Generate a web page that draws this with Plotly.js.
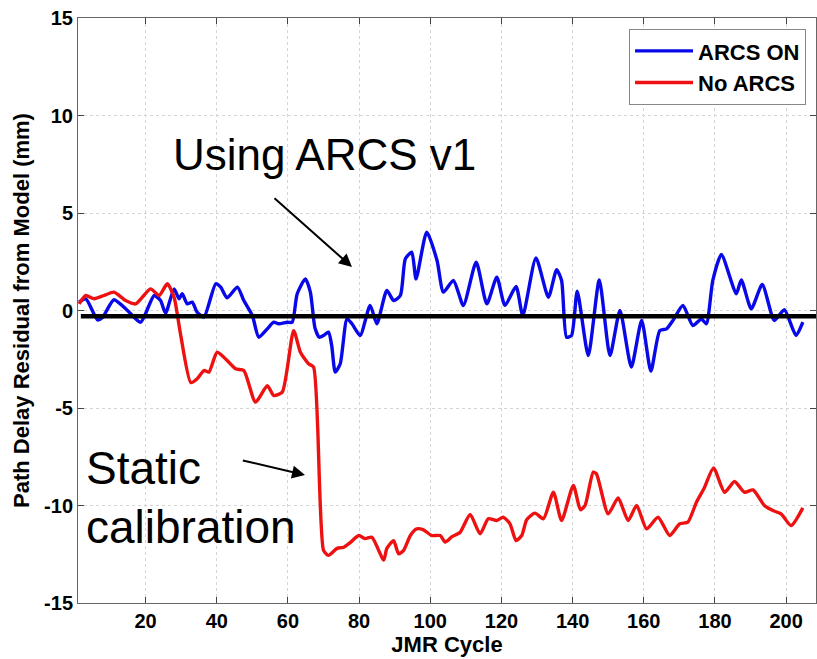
<!DOCTYPE html>
<html>
<head>
<meta charset="utf-8">
<script src="https://cdn.plot.ly/plotly-3.0.1.min.js"></script>
<style>html,body{margin:0;padding:0;background:#fff;}#chart{width:817px;height:659px;}</style>
</head>
<body>
<div id="chart"></div>
<script>
// JMR cycle (x) and path delay residual (mm) for ARCS ON
const arcsOnCycle = [1.3,3.2,6.5,7.9,11.1,14.9,18.6,22.4,24.2,25.6,28,29.4,30.3,31.7,33.1,34.5,36.4,39.7,41.1,42.9,45.8,47.6,50,51.8,54.2,56,57.4,59.8,61.2,62.6,64.9,66.3,67.6,68.8,70,71.4,72.3,73.3,74.7,76.6,78,80.3,83.1,85,87.8,89.7,91.6,93,94.8,96,99,101.9,103.7,106.5,109.3,112.9,115.9,118.7,121,124.1,126,129.7,133.2,135.5,136.9,138.3,139.7,141.3,144.4,147.5,150.5,153.3,156.5,159.4,162,164.5,166.4,168.2,171,173.8,176.2,177.6,179.4,181.8,186,187.4,190.2,193.3,196.7,199.5,202.8,204.7];
const arcsOnResidual = [0.43,0.6,-0.48,-0.36,0.55,0.0,-0.6,0.77,0.51,-0.14,1.11,0.6,0.86,0.34,0.43,-0.09,-0.34,1.37,1.2,0.65,1.2,0.51,-0.26,-1.37,-0.94,-0.6,-0.68,-0.6,-0.6,0.86,1.62,0.94,-0.9,-1.37,-1.28,-1.11,-1.8,-3.16,-2.73,-0.43,-0.68,-1.28,0.26,-0.68,1.03,0.51,0.77,2.65,2.99,1.62,4.02,2.56,0.94,1.54,0.26,2.48,0.34,1.71,0.26,1.23,-0.26,2.7,0.68,2.09,1.54,-1.37,-1.28,0.99,-2.31,1.57,-2.31,0.0,-2.9,-0.51,-3.11,-1.03,-0.94,-0.51,0.26,-0.77,-0.43,-0.68,1.54,2.87,0.86,1.57,0.09,1.33,-0.51,0.04,-1.28,-0.6];

// JMR cycle (x) and path delay residual (mm) with no ARCS (static calibration)
const noArcsCycle = [1.3,3.2,5.5,8.3,11.1,14.4,17.2,21.4,23.8,26.1,28,29.8,32.7,34.5,36.4,37.8,40.1,42.9,45.3,47.6,50.9,54.2,56,58.4,61.6,63.5,65.8,67.2,70,71.4,73.8,75.7,77.5,79.9,81.7,83.6,86.9,87.8,89.7,91.1,92.5,94.4,96.2,98.1,100.4,102.8,104.2,106.1,108.4,111.2,114,116.3,118.7,120.5,122.4,124.1,125.7,127.1,129.4,131.8,134.6,136.9,140.2,142.2,143.5,145.8,146.7,150,152.8,155.6,158,160.8,164,167.3,170.1,172.4,174.8,177.1,179.6,182.7,185.5,188.3,190.7,193.9,196.3,198.6,201.4,204.7];
const noArcsResidual = [0.34,0.77,0.6,0.77,0.94,0.51,0.34,1.11,0.77,1.37,0.68,-1.2,-3.7,-3.5,-3.08,-3.16,-2.14,-2.56,-2.99,-3.08,-4.7,-3.85,-4.36,-4.19,-1.03,-2.14,-2.73,-2.9,-12.3,-12.56,-12.2,-12.14,-11.9,-11.54,-11.7,-11.63,-12.8,-12.2,-11.8,-12.48,-12.3,-11.54,-11.2,-11.25,-11.54,-11.54,-11.88,-11.6,-11.37,-10.46,-11.45,-10.68,-10.77,-10.6,-10.94,-11.8,-11.54,-10.73,-10.39,-10.68,-9.32,-10.77,-8.97,-10.22,-10.0,-8.29,-8.38,-10.43,-9.61,-10.77,-10.0,-11.2,-10.6,-11.54,-10.94,-10.85,-9.83,-9.06,-8.07,-9.32,-8.77,-9.32,-9.2,-10.0,-10.26,-10.43,-11.03,-10.12];

// Reference (mean) line
const refLineCycle = [1.8, 208.4];
const refLineValue = [-0.3, -0.3];

const xTicks = [20,40,60,80,100,120,140,160,180,200];
const yTicks = [-15,-10,-5,0,5,10,15];

const FONT = '"Liberation Sans", Arial, Helvetica, sans-serif';

const traces = [
  {x: arcsOnCycle, y: arcsOnResidual, name: 'ARCS ON', mode: 'lines',
   line: {color: '#0808e8', width: 3.4, shape: 'spline', smoothing: 0.6}},
  {x: noArcsCycle, y: noArcsResidual, name: 'No ARCS', mode: 'lines',
   line: {color: '#ee1111', width: 3.4, shape: 'spline', smoothing: 0.6}},
  {x: refLineCycle, y: refLineValue, mode: 'lines', showlegend: false, hoverinfo: 'skip',
   line: {color: '#000000', width: 4.5}}
];

const axisCommon = {
  showline: true, mirror: 'ticks', linecolor: '#666', linewidth: 1,
  ticks: 'inside', ticklen: 6, tickcolor: '#444', tickwidth: 1,
  showgrid: true, gridcolor: '#d4d4d4', griddash: 'dot', gridwidth: 1,
  zeroline: false,
  tickfont: {family: FONT, size: 20, color: '#000', weight: 'bold'}
};

const layout = {
  width: 817, height: 659,
  margin: {l: 78, r: 1, t: 18, b: 56},
  paper_bgcolor: '#fff', plot_bgcolor: '#fff',
  showlegend: true,
  legend: {
    x: 0.9865, y: 0.981, xanchor: 'right', yanchor: 'top',
    bgcolor: '#fff', bordercolor: '#888', borderwidth: 1,
    font: {family: FONT, size: 22, color: '#000', weight: 'bold'},
    itemwidth: 58, tracegroupgap: 0
  },
  xaxis: Object.assign({}, axisCommon, {
    range: [1, 208.4], tickvals: xTicks, ticktext: xTicks.map(String),
    title: {text: 'JMR Cycle', standoff: 2, font: {family: FONT, size: 22, color: '#000', weight: 'bold'}}
  }),
  yaxis: Object.assign({}, axisCommon, {
    range: [-15, 15], tickvals: yTicks, ticktext: yTicks.map(String),
    title: {text: 'Path Delay Residual from Model (mm)', standoff: 8, font: {family: FONT, size: 22, color: '#000', weight: 'bold'}}
  }),
  annotations: [
    {xref: 'x', yref: 'y', x: 70.4, y: 8.0, text: 'Using ARCS v1', showarrow: false,
     font: {family: FONT, size: 44, color: '#000'}, xanchor: 'center', yanchor: 'middle'},
    {xref: 'x', yref: 'y', x: 78.0, y: 2.23, axref: 'x', ayref: 'y', ax: 55.8, ay: 5.82,
     text: '', showarrow: true, arrowhead: 2, arrowsize: 1.3, arrowwidth: 2, arrowcolor: '#000'},
    {xref: 'x', yref: 'y', x: 2.8, y: -8.1, text: 'Static', showarrow: false,
     font: {family: FONT, size: 46, color: '#000'}, xanchor: 'left', yanchor: 'middle'},
    {xref: 'x', yref: 'y', x: 2.8, y: -11.1, text: 'calibration', showarrow: false,
     font: {family: FONT, size: 46, color: '#000'}, xanchor: 'left', yanchor: 'middle'},
    {xref: 'x', yref: 'y', x: 64.8, y: -8.44, axref: 'x', ayref: 'y', ax: 46.9, ay: -7.67,
     text: '', showarrow: true, arrowhead: 2, arrowsize: 1.3, arrowwidth: 2, arrowcolor: '#000'}
  ]
};

Plotly.newPlot('chart', traces, layout, {displayModeBar: false, staticPlot: true});
</script>
</body>
</html>
